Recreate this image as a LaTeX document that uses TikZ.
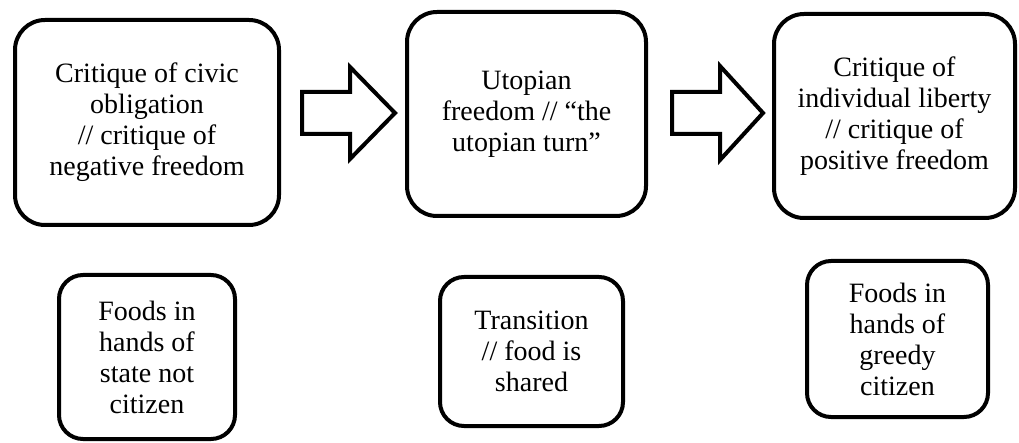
\documentclass[tikz,border=0pt]{standalone}
\usepackage{fontspec}
\setmainfont{Liberation Serif}
\begin{document}
\begin{tikzpicture}[x=1pt,y=-1pt,
  topbox/.style={draw, line width=4pt, rounded corners=30pt, align=center,
    font=\fontsize{28}{31}\selectfont, inner sep=0pt},
  botbox/.style={draw, line width=4pt, rounded corners=24pt, align=center,
    font=\fontsize{28}{31}\selectfont, inner sep=0pt},
  blockarrow/.style={draw, line width=4pt, line join=miter, fill=white}]
\useasboundingbox (0,0) rectangle (1019,443);
\node[topbox, minimum width=264pt, minimum height=205pt] (b1) at (147,122.5)
  {Critique of civic\\obligation\\// critique of\\negative freedom};
\node[topbox, minimum width=239pt, minimum height=204pt] (b2) at (526.5,114)
  {Utopian\\freedom // “the\\utopian turn”};
\node[topbox, minimum width=241pt, minimum height=204pt] (b3) at (894.5,116)
  {Critique of\\individual liberty\\// critique of\\positive freedom};
\node[botbox, minimum width=176pt, minimum height=164pt] (c1) at (147,357)
  {Foods in\\hands of\\state not\\citizen};
\node[botbox, minimum width=183pt, minimum height=149pt] (c2) at (531.5,351.5)
  {Transition\\// food is\\shared};
\node[botbox, minimum width=181pt, minimum height=156pt] (c3) at (897.5,339)
  {Foods in\\hands of\\greedy\\citizen};
\coordinate (a1) at (302,113);
\coordinate (a2) at (672,113);
\draw[blockarrow] (a1) ++(0,-21) -- ++(48,0) -- ++(0,-25) -- ++(45,46)
  -- ++(-45,46) -- ++(0,-25) -- ++(-48,0) -- cycle;
\draw[blockarrow] (a2) ++(0,-21) -- ++(48,0) -- ++(0,-26) -- ++(43,47)
  -- ++(-43,47) -- ++(0,-26) -- ++(-48,0) -- cycle;
\end{tikzpicture}
\end{document}
